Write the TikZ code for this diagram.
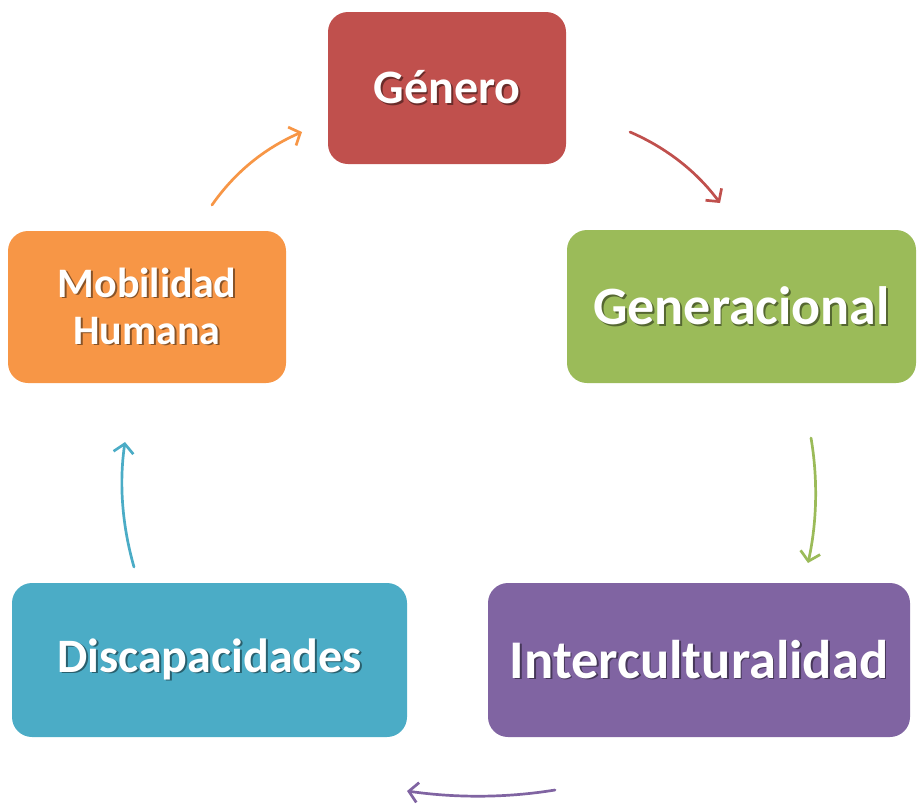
\documentclass[tikz,border=0pt]{standalone}
\usepackage{fontspec}
\setmainfont{Carlito}
\usetikzlibrary{arrows.meta}
\definecolor{cred}{HTML}{C0504D}
\definecolor{cgreen}{HTML}{9BBB59}
\definecolor{cpurple}{HTML}{8064A2}
\definecolor{cteal}{HTML}{4BACC6}
\definecolor{corange}{HTML}{F79646}
\newcommand\shtxt[2]{\makebox[0pt][l]{\hspace{1.8pt}\raisebox{-1.8pt}{\textcolor{#1!55!black}{#2}}}#2}
\tikzset{
  box/.style={rounded corners=20pt, draw=none, inner sep=0pt, text=white, align=center},
  arr/.style={line width=2.7pt, line cap=round, line join=round, -{Straight Barb[length=9pt,width=20pt]}}
}
\begin{document}
\begin{tikzpicture}[x=1pt,y=-1pt]
\useasboundingbox (0,0) rectangle (917,803);
\node[box, fill=cred, minimum width=238pt, minimum height=152pt,
  font=\fontsize{48}{56}\selectfont\bfseries] (gen) at (447,88) {\shtxt{cred}{Género}};
\node[box, fill=cgreen, minimum width=349pt, minimum height=153pt,
  font=\fontsize{54}{60}\selectfont\bfseries] (gnr) at (741.5,306.5) {\shtxt{cgreen}{Generacional}};
\node[box, fill=cpurple, minimum width=422pt, minimum height=154pt,
  font=\fontsize{54.5}{60}\selectfont\bfseries] (int) at (699,660) {\shtxt{cpurple}{Interculturalidad}};
\node[box, fill=cteal, minimum width=395pt, minimum height=154pt,
  font=\fontsize{48}{56}\selectfont\bfseries] (dis) at (209.5,660) {\shtxt{cteal}{Discapacidades}};
\node[box, fill=corange, minimum width=278pt, minimum height=152pt,
  font=\fontsize{42}{47}\selectfont\bfseries] (mob) at (147,307) {\shtxt{corange}{Mobilidad}\\\shtxt{corange}{Humana}};
\coordinate (r1) at (630,132); \coordinate (r2) at (720,203);
\coordinate (g1) at (811,438); \coordinate (g2) at (808,563);
\coordinate (p1) at (555,790); \coordinate (p2) at (407,791);
\coordinate (t1) at (134,567); \coordinate (t2) at (125,442);
\coordinate (o1) at (212,205); \coordinate (o2) at (302,132);
\draw[arr, cred] (r1) .. controls (667,148) and (697,172) .. (r2);
\draw[arr, cgreen] (g1) .. controls (818,479) and (817,522) .. (g2);
\draw[arr, cpurple] (p1) .. controls (506,798) and (456,798) .. (p2);
\draw[arr, cteal] (t1) .. controls (122,525) and (119,483) .. (t2);
\draw[arr, corange] (o1) .. controls (235,172) and (265,148) .. (o2);
\end{tikzpicture}
\end{document}
